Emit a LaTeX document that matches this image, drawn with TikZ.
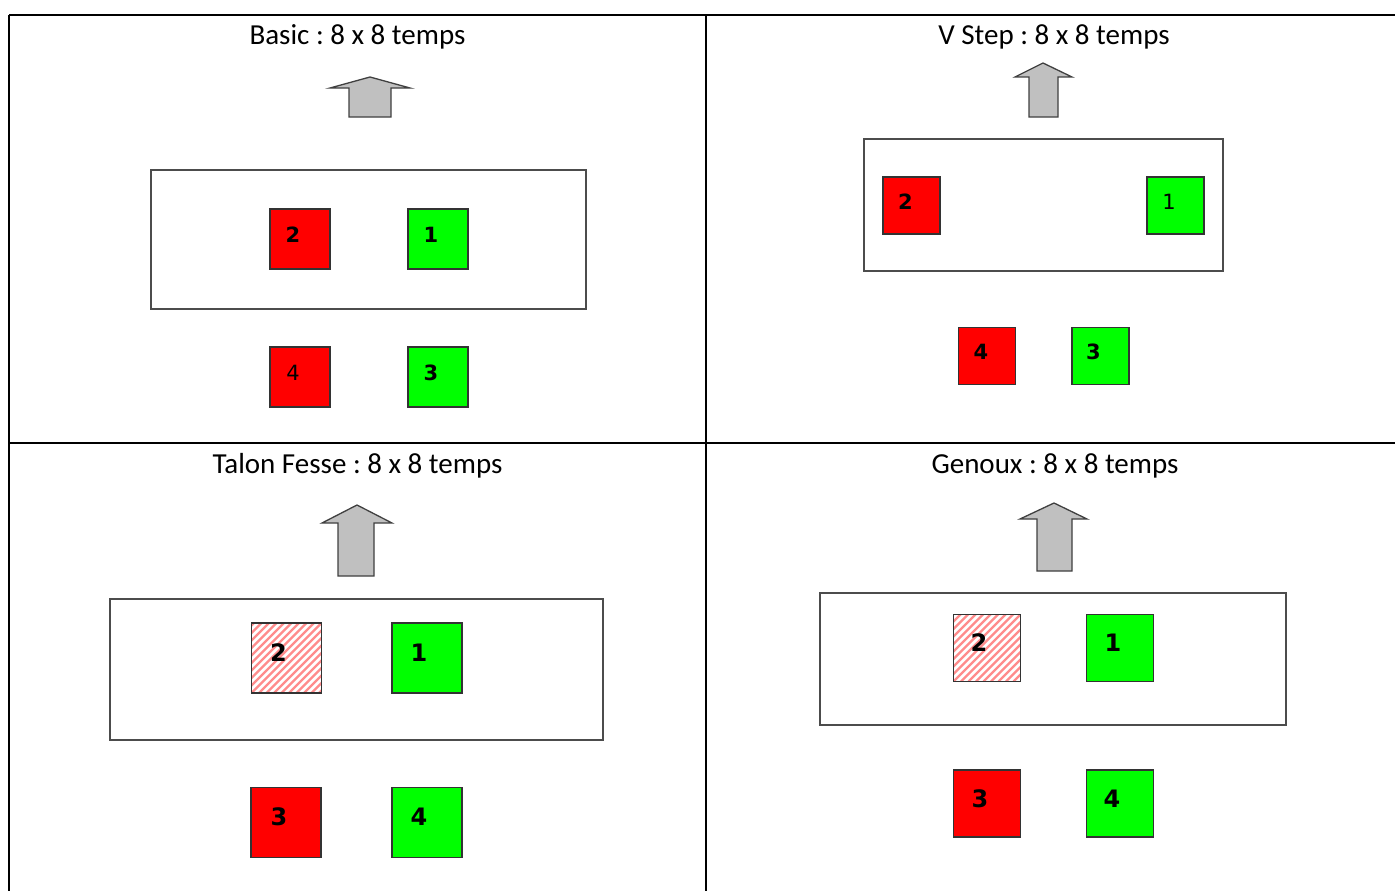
\documentclass[tikz,border=0pt]{standalone}
\usepackage{fontspec}
\setmainfont{Carlito}
\newfontfamily\digitfont{DejaVu Sans}
\frenchspacing
\begin{document}
\begin{tikzpicture}[x=1pt,y=-1pt,
  gridline/.style={line width=2pt, black},
  title/.style={anchor=base, inner sep=0pt, font=\fontsize{29}{32}\selectfont},
  zone/.style={draw=black!70, line width=1.4pt, fill=white, inner sep=0pt},
  foot/.style={draw=black!80, line width=1.3pt, inner sep=0pt},
  redfoot/.style={foot, fill={rgb,255:red,255;green,0;blue,0}},
  greenfoot/.style={foot, fill={rgb,255:red,0;green,255;blue,0}},
  hatchfoot/.style={foot, fill=white,
    path picture={
      \foreach \k in {-12,...,12}{
        \draw[red!45, line width=2.4pt]
          ([xshift=\k*7.5pt]path picture bounding box.south west) -- ++(95pt,95pt);
      }}},
  num/.style={inner sep=0pt, font=\digitfont\bfseries\fontsize{21}{23}\selectfont},
  numthin/.style={inner sep=0pt, font=\digitfont\fontsize{21}{23}\selectfont},
  numbig/.style={inner sep=0pt, font=\digitfont\bfseries\fontsize{24}{27}\selectfont},
  uparrow/.style={fill={rgb,255:red,192;green,192;blue,192}, draw=black!75,
    line width=1.3pt, line join=miter}
]
\useasboundingbox (0,0) rectangle (1395,891);

% table rules
\draw[gridline] (9,15) -- (1395,15);
\draw[gridline] (9,443) -- (1395,443);
\draw[gridline] (9,15) -- (9,891);
\draw[gridline] (706,15) -- (706,891);

% titles
\node[title] (t1) at (357.5,45) {Basic : 8 x 8 temps};
\node[title] (t2) at (1054,45) {V Step : 8 x 8 temps};
\node[title] (t3) at (357.5,473) {Talon Fesse : 8 x 8 temps};
\node[title] (t4) at (1055,473) {Genoux : 8 x 8 temps};

% direction arrows
\filldraw[uparrow] (370,77) -- (410,88) -- (391,88) -- (391,117) -- (349,117) -- (349,88) -- (330,88) -- cycle;
\filldraw[uparrow] (1043,63) -- (1072,77) -- (1058,77) -- (1058,117) -- (1029,117) -- (1029,77) -- (1015,77) -- cycle;
\filldraw[uparrow] (357,505) -- (392,523) -- (374,523) -- (374,576) -- (338,576) -- (338,523) -- (322,523) -- cycle;
\filldraw[uparrow] (1054,503) -- (1087,519) -- (1072,519) -- (1072,571) -- (1037,571) -- (1037,519) -- (1020,519) -- cycle;

% Basic
\node[zone, minimum width=435pt, minimum height=139pt] (z1) at (368.5,239.5) {};
\node[redfoot, minimum size=60pt] (b2) at (300,239) {};
\node[greenfoot, minimum size=60pt] (b1) at (438,239) {};
\node[redfoot, minimum size=60pt] (b4) at (300,377) {};
\node[greenfoot, minimum size=60pt] (b3) at (438,377) {};
\node[num] at ([xshift=-7pt,yshift=4pt]b2.center) {2};
\node[num] at ([xshift=-7pt,yshift=4pt]b1.center) {1};
\node[numthin] at ([xshift=-7pt,yshift=4pt]b4.center) {4};
\node[num] at ([xshift=-7pt,yshift=4pt]b3.center) {3};

% V Step
\node[zone, minimum width=359pt, minimum height=132pt] (z2) at (1043.5,205) {};
\node[redfoot, minimum size=57pt] (v2) at (911.5,205.5) {};
\node[greenfoot, minimum size=57pt] (v1) at (1175.5,205.5) {};
\node[redfoot, minimum size=57pt] (v4) at (987,356) {};
\node[greenfoot, minimum size=57pt] (v3) at (1100.5,356) {};
\node[num] at ([xshift=-6pt,yshift=4pt]v2.center) {2};
\node[numthin] at ([xshift=-6.5pt,yshift=4pt]v1.center) {1};
\node[num] at ([xshift=-6pt,yshift=4pt]v4.center) {4};
\node[num] at ([xshift=-7pt,yshift=4pt]v3.center) {3};

% Talon Fesse
\node[zone, minimum width=493pt, minimum height=141pt] (z3) at (356.5,669.5) {};
\node[hatchfoot, minimum size=70pt] (f2) at (286.5,658) {};
\node[greenfoot, minimum size=70pt] (f1) at (427,658) {};
\node[redfoot, minimum size=70pt] (f3) at (286,822.5) {};
\node[greenfoot, minimum size=70pt] (f4) at (427,822.5) {};
\node[numbig] at ([xshift=-8pt,yshift=5pt]f2.center) {2};
\node[numbig] at ([xshift=-8pt,yshift=5pt]f1.center) {1};
\node[numbig] at ([xshift=-7pt,yshift=6pt]f3.center) {3};
\node[numbig] at ([xshift=-8pt,yshift=6pt]f4.center) {4};

% Genoux
\node[zone, minimum width=466pt, minimum height=132pt] (z4) at (1053,659) {};
\node[hatchfoot, minimum size=67pt] (g2) at (987,648) {};
\node[greenfoot, minimum size=67pt] (g1) at (1120,648) {};
\node[redfoot, minimum size=67pt] (g3) at (987,803.5) {};
\node[greenfoot, minimum size=67pt] (g4) at (1120,803.5) {};
\node[numbig] at ([xshift=-8pt,yshift=5pt]g2.center) {2};
\node[numbig] at ([xshift=-7pt,yshift=5pt]g1.center) {1};
\node[numbig] at ([xshift=-7pt,yshift=5pt]g3.center) {3};
\node[numbig] at ([xshift=-8pt,yshift=5pt]g4.center) {4};
\end{tikzpicture}
\end{document}
